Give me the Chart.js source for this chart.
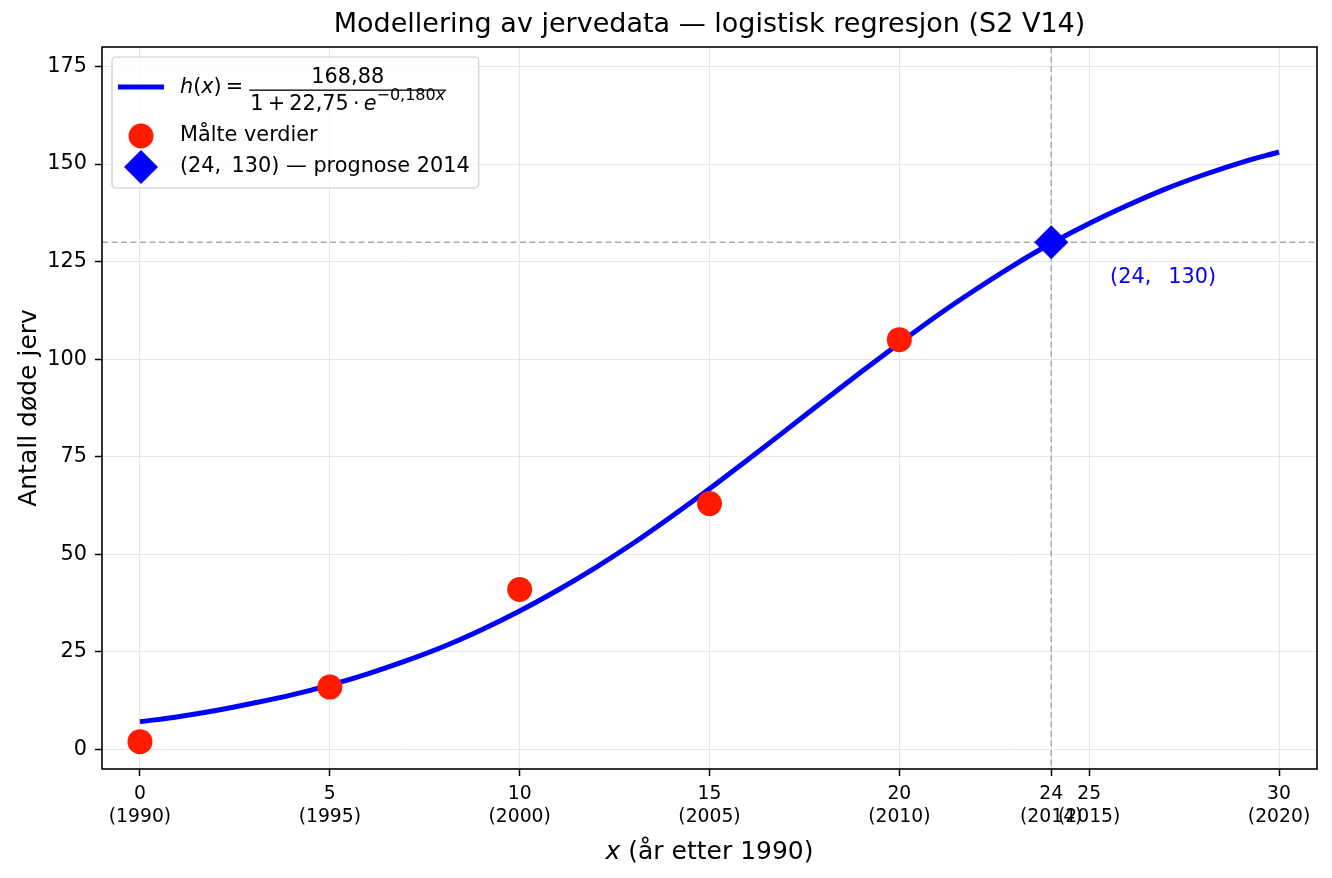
<!DOCTYPE html>
<html>
<head>
<meta charset="utf-8">
<script src="https://cdn.jsdelivr.net/npm/chart.js@4.4.1/dist/chart.umd.min.js"></script>
<style>
  html, body { margin: 0; padding: 0; background: #fff; overflow: hidden; }
  #wrap { width: 1332px; height: 878px; }
</style>
</head>
<body>
<div id="wrap"><canvas id="jervChart"></canvas></div>
<script>
// h(x) at whole years after 1990
const curveX = [0, 1, 2, 3, 4, 5, 6, 7, 8, 9, 10, 11, 12, 13, 14, 15,
  16, 17, 18, 19, 20, 21, 22, 23, 24, 25, 26, 27, 28, 29, 30];
const curveY = [7.1, 8.4, 10.0, 11.9, 14.0, 16.5, 19.4, 22.7, 26.4, 30.7,
  35.5, 40.8, 46.6, 52.9, 59.7, 66.8, 74.2, 81.7, 89.3, 96.8, 104.1,
  111.2, 117.8, 124.0, 129.7, 134.8, 139.4, 143.6, 147.2, 150.4, 153.1];

// measured values (dead wolverines)
const measuredX = [0, 5, 10, 15, 20];
const measuredY = [2, 16, 41, 63, 105];

// forecast point for 2014
const forecastX = [24];
const forecastY = [130];

const xTickValues = [0, 5, 10, 15, 20, 24, 25, 30];
const xTickYears = ["(1990)", "(1995)", "(2000)", "(2005)", "(2010)", "(2014)", "(2015)", "(2020)"];
const yTickValues = [0, 25, 50, 75, 100, 125, 150, 175];

const FONT = "'DejaVu Sans', sans-serif";
const BLUE = "#0000ff";
const RED = "#ff1a00";

Chart.defaults.font.family = FONT;
Chart.defaults.color = "#000";

const toPoints = (xs, ys) => xs.map((x, i) => ({ x: x, y: ys[i] }));

// draw a row of text pieces (some italic / smaller) starting at x
function drawRuns(ctx, runs, x, y) {
  let cx = x;
  runs.forEach((r) => {
    ctx.font = (r.italic ? "italic " : "") + r.size + "px " + FONT;
    ctx.fillText(r.text, cx, y + (r.dy || 0));
    cx += ctx.measureText(r.text).width;
  });
  return cx;
}
function runsWidth(ctx, runs) {
  let w = 0;
  runs.forEach((r) => {
    ctx.font = (r.italic ? "italic " : "") + r.size + "px " + FONT;
    w += ctx.measureText(r.text).width;
  });
  return w;
}

// dashed guide lines through the forecast point, and the axes frame
const guideLines = {
  id: "guideLines",
  beforeDatasetsDraw(chart) {
    const { ctx, chartArea: a, scales } = chart;
    const px = scales.x.getPixelForValue(forecastX[0]);
    const py = scales.y.getPixelForValue(forecastY[0]);
    ctx.save();
    ctx.strokeStyle = "#aaaaaa";
    ctx.lineWidth = 1.5;
    ctx.setLineDash([6, 3.5]);
    ctx.beginPath();
    ctx.moveTo(a.left, py);
    ctx.lineTo(a.right, py);
    ctx.moveTo(px, a.top);
    ctx.lineTo(px, a.bottom);
    ctx.stroke();
    ctx.restore();
  },
  afterDatasetsDraw(chart) {
    const { ctx, chartArea: a } = chart;
    ctx.save();
    ctx.strokeStyle = "#000";
    ctx.lineWidth = 1.6;
    ctx.strokeRect(a.left, a.top, a.right - a.left, a.bottom - a.top);
    ctx.restore();
  },
};

const extras = {
  id: "extras",
  afterDraw(chart) {
    const { ctx, chartArea: a, scales } = chart;
    ctx.save();

    // label next to the forecast point
    ctx.fillStyle = BLUE;
    ctx.font = "20.8px " + FONT;
    ctx.textAlign = "left";
    ctx.textBaseline = "middle";
    ctx.fillText("(24,\u2002 130)", scales.x.getPixelForValue(forecastX[0] + 1.55),
      scales.y.getPixelForValue(forecastY[0] - 9));

    // x axis title with italic x
    ctx.fillStyle = "#000";
    const xl = [
      { text: "x", italic: true, size: 25 },
      { text: " (år etter 1990)", size: 25 },
    ];
    const xw = runsWidth(ctx, xl);
    drawRuns(ctx, xl, (a.left + a.right) / 2 - xw / 2, 852);

    // legend
    const x0 = a.left + 10, y0 = a.top + 10;
    const tx = x0 + 68;
    const fs = 20.8;
    const hx = [
      { text: "h", italic: true, size: fs },
      { text: "(", size: fs },
      { text: "x", italic: true, size: fs },
      { text: ")\u2009=", size: fs },
    ];
    const num = [{ text: "168,88", size: fs }];
    const den = [
      { text: "1\u2009+\u200922,75\u2009·\u2009", size: fs },
      { text: "e", italic: true, size: fs },
      { text: "\u22120,180", size: 16, dy: -10 },
      { text: "x", italic: true, size: 16, dy: -10 },
    ];
    const third = "(24,\u2002130) \u2014 prognose 2014";
    ctx.font = fs + "px " + FONT;
    const thirdW = ctx.measureText(third).width;
    const hxW = runsWidth(ctx, hx);
    const denW = runsWidth(ctx, den);
    const numW = runsWidth(ctx, num);
    const fx = tx + hxW + 6;
    const fracW = Math.max(denW, numW) + 2;
    const boxW = Math.max(fx + fracW, tx + thirdW) - x0 + 9;
    const boxH = 131;

    ctx.fillStyle = "rgba(255,255,255,0.8)";
    ctx.strokeStyle = "#cccccc";
    ctx.lineWidth = 1.2;
    ctx.beginPath();
    ctx.roundRect(x0, y0, boxW, boxH, 4);
    ctx.fill();
    ctx.stroke();

    // line sample
    ctx.strokeStyle = BLUE;
    ctx.lineWidth = 5;
    ctx.beginPath();
    ctx.moveTo(x0 + 6, y0 + 30);
    ctx.lineTo(x0 + 52, y0 + 30);
    ctx.stroke();

    ctx.fillStyle = "#000";
    ctx.textBaseline = "middle";
    drawRuns(ctx, hx, tx, y0 + 31);
    ctx.textBaseline = "alphabetic";
    drawRuns(ctx, num, fx + fracW / 2 - numW / 2, y0 + 26);
    drawRuns(ctx, den, fx + fracW / 2 - denW / 2, y0 + 53);
    ctx.fillRect(fx, y0 + 32.5, fracW, 1.3);

    // measured marker
    ctx.fillStyle = RED;
    ctx.beginPath();
    ctx.arc(x0 + 29, y0 + 79, 12.5, 0, Math.PI * 2);
    ctx.fill();
    // forecast marker
    ctx.fillStyle = BLUE;
    ctx.beginPath();
    ctx.moveTo(x0 + 29 - 17, y0 + 110);
    ctx.lineTo(x0 + 29, y0 + 110 - 17);
    ctx.lineTo(x0 + 29 + 17, y0 + 110);
    ctx.lineTo(x0 + 29, y0 + 110 + 17);
    ctx.closePath();
    ctx.fill();

    ctx.fillStyle = "#000";
    ctx.font = fs + "px " + FONT;
    ctx.textBaseline = "middle";
    ctx.fillText("Målte verdier", tx, y0 + 79);
    ctx.fillText(third, tx, y0 + 110);
    ctx.restore();
  },
};

new Chart(document.getElementById("jervChart"), {
  type: "scatter",
  data: {
    datasets: [
      {
        label: "(24, 130) — prognose 2014",
        data: toPoints(forecastX, forecastY),
        pointStyle: "rectRot",
        pointRadius: 17,
        backgroundColor: BLUE,
        borderColor: BLUE,
        borderWidth: 0,
        order: 1,
      },
      {
        label: "Målte verdier",
        data: toPoints(measuredX, measuredY),
        pointRadius: 12.5,
        backgroundColor: RED,
        borderColor: RED,
        borderWidth: 0,
        order: 2,
      },
      {
        type: "line",
        label: "h(x)",
        data: toPoints(curveX, curveY),
        borderColor: BLUE,
        borderWidth: 5,
        pointRadius: 0,
        cubicInterpolationMode: "monotone",
        fill: false,
        order: 3,
      },
    ],
  },
  options: {
    responsive: true,
    maintainAspectRatio: false,
    animation: false,
    events: [],
    layout: { autoPadding: false, padding: { left: 0, right: 15, top: 0, bottom: 0 } },
    plugins: {
      legend: { display: false },
      tooltip: { enabled: false },
      title: {
        display: true,
        text: "Modellering av jervedata — logistisk regresjon (S2 V14)",
        fullSize: false,
        color: "#000",
        font: { size: 27, weight: "normal" },
        padding: { top: 9, bottom: 5.6 },
      },
    },
    scales: {
      x: {
        type: "linear",
        min: -1,
        max: 31,
        afterBuildTicks: (axis) => {
          axis.ticks = xTickValues.map((v) => ({ value: v }));
        },
        afterFit: (axis) => {
          axis.height = 109;
          axis.paddingLeft = 0;
          axis.paddingRight = 0;
        },
        grid: { color: "#e6e6e6", lineWidth: 1, tickColor: "#000", tickLength: 7, tickWidth: 1.5 },
        border: { display: false },
        ticks: {
          autoSkip: false,
          maxRotation: 0,
          minRotation: 0,
          padding: 7,
          color: "#000",
          font: { size: 18.75 },
          callback: (v) => {
            const i = xTickValues.indexOf(v);
            return [String(v), xTickYears[i]];
          },
        },
      },
      y: {
        type: "linear",
        min: -5,
        max: 180,
        afterBuildTicks: (axis) => {
          axis.ticks = yTickValues.map((v) => ({ value: v }));
        },
        afterFit: (axis) => {
          axis.width = 102;
          axis.paddingTop = 0;
          axis.paddingBottom = 0;
        },
        grid: { color: "#e6e6e6", lineWidth: 1, tickColor: "#000", tickLength: 7, tickWidth: 1.5 },
        border: { display: false },
        ticks: { padding: 8, color: "#000", font: { size: 20.8 } },
        title: {
          display: true,
          text: "Antall døde jerv",
          color: "#000",
          font: { size: 25 },
          padding: { top: 14, bottom: 0 },
        },
      },
    },
  },
  plugins: [guideLines, extras],
});
</script>
</body>
</html>
